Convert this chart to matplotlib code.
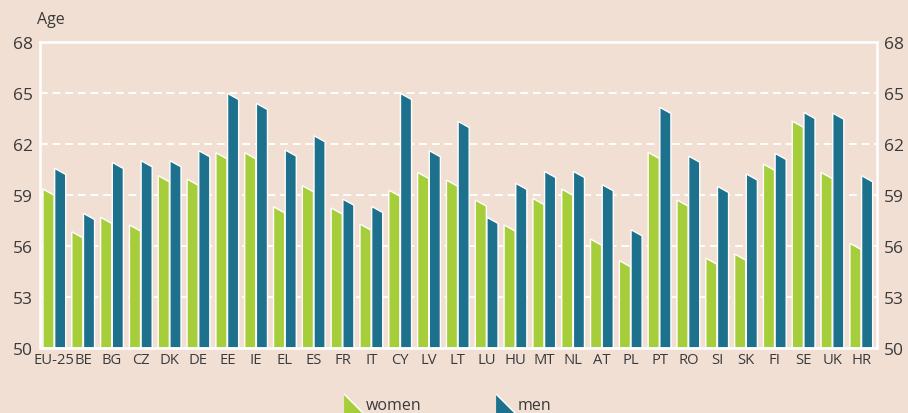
import numpy as np
import matplotlib.pyplot as plt
from matplotlib.patches import Polygon
from matplotlib.lines import Line2D

countries = ["EU-25", "BE", "BG", "CZ", "DK", "DE", "EE", "IE", "EL", "ES",
             "FR", "IT", "CY", "LV", "LT", "LU", "HU", "MT", "NL", "AT",
             "PL", "PT", "RO", "SI", "SK", "FI", "SE", "UK", "HR"]
women = [59.35, 56.84, 57.69, 57.24, 60.14, 59.94, 61.49, 61.49, 58.31, 59.55,
         58.24, 57.29, 59.29, 60.33, 59.88, 58.71, 57.24, 58.80, 59.35, 56.41,
         55.14, 61.51, 58.71, 55.29, 55.53, 60.82, 63.35, 60.33, 56.16]
men = [60.57, 57.92, 60.92, 61.02, 61.02, 61.61, 64.98, 64.39, 61.65, 62.49,
       58.76, 58.33, 64.98, 61.61, 63.33, 57.69, 59.69, 60.39, 60.39, 59.61,
       56.96, 64.16, 61.29, 59.51, 60.24, 61.45, 63.86, 63.82, 60.14]
yticks = [50, 53, 56, 59, 62, 65, 68]

BG = "#f1dfd4"
GREEN = "#a6cd3a"
BLUE = "#1e718c"
TEXT = "#3a3a3a"

plt.rcParams['font.family'] = ['Open Sans', 'DejaVu Sans']

fig = plt.figure(figsize=(9.08, 4.14), dpi=100, facecolor=BG)
ax = fig.add_axes([0.044, 0.157, 0.922, 0.739])
ax.set_facecolor(BG)

BASE = 50
W = 0.385    # bar width
GAP = 0.02   # gap between women/men bars
SLANT = 0.36  # drop of slanted top


def slanted_bar(x0, value, color):
    pts = [(x0, BASE), (x0, value), (x0 + W, value - SLANT), (x0 + W, BASE)]
    ax.add_patch(Polygon(pts, closed=True, facecolor=color, edgecolor="white",
                         linewidth=1.0, zorder=3))


x = np.arange(len(countries))
for i in x:
    slanted_bar(i - GAP / 2 - W, women[i], GREEN)
    slanted_bar(i + GAP / 2, men[i], BLUE)

ax.set_xlim(-0.5, len(countries) - 0.45)
ax.set_ylim(50, 68)
ax.set_yticks(yticks)
ax.set_xticks(x)
ax.set_xticklabels(countries)

for y in yticks[1:-1]:
    ax.axhline(y, color="white", linewidth=1.4, linestyle=(0, (4, 2.5)), zorder=1)

for side in ["left", "right", "top", "bottom"]:
    ax.spines[side].set_color("white")
    ax.spines[side].set_linewidth(1.8)
    ax.spines[side].set_zorder(4)

ax.tick_params(axis="y", length=0, labelsize=12.5, colors=TEXT, pad=5,
               labelright=True, right=False)
ax.tick_params(axis="x", length=0, labelsize=10.6, colors=TEXT, pad=3)

ax.text(-0.6, 68.9, "Age", fontsize=11.5, color=TEXT, ha="left", va="bottom")

tri = [(-1, 1), (1, -1), (-1, -1)]
handles = [
    Line2D([], [], linestyle="none", marker=tri, markersize=15,
           markerfacecolor=GREEN, markeredgecolor="white", markeredgewidth=1.0),
    Line2D([], [], linestyle="none", marker=tri, markersize=15,
           markerfacecolor=BLUE, markeredgecolor="white", markeredgewidth=1.0),
]
fig.legend(handles, ["women", "men"], loc="lower center",
           bbox_to_anchor=(0.493, -0.035), ncol=2, frameon=False,
           fontsize=11.5, labelcolor=TEXT, columnspacing=4.7, handletextpad=0.15,
           handlelength=1.2)

fig.savefig("out.png", dpi=100, facecolor=BG)
